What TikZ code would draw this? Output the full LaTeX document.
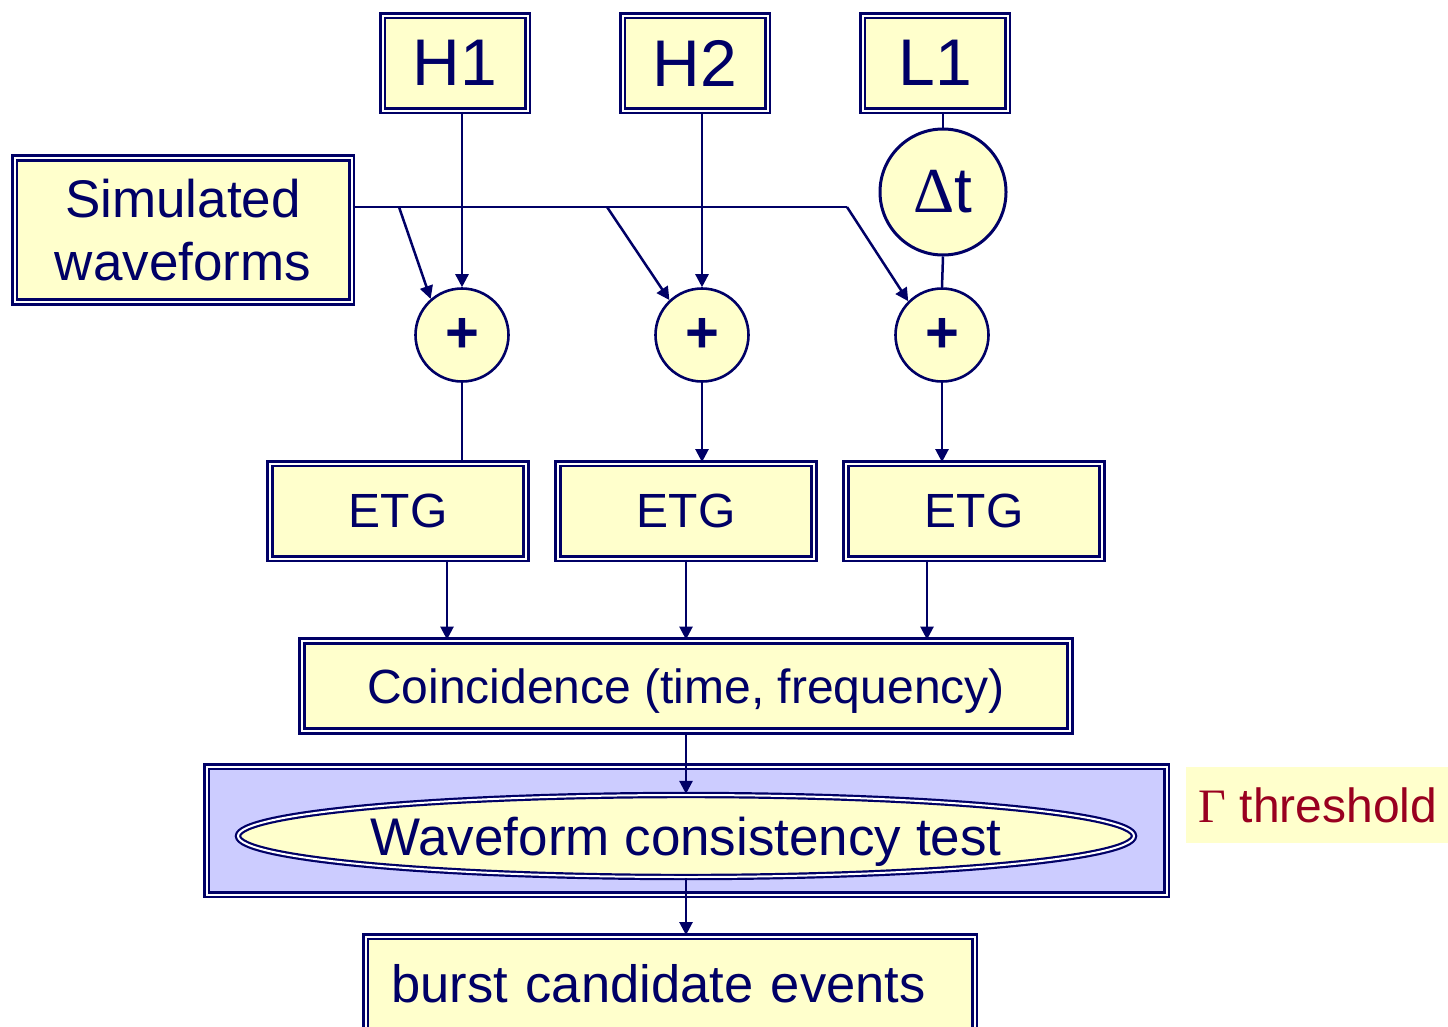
\documentclass[tikz,border=0pt]{standalone}
\usepackage{fontspec}
\setmainfont{Liberation Sans}
\newfontfamily\greekserif{Liberation Serif}
\usetikzlibrary{shapes.geometric,arrows.meta}
\definecolor{navy}{HTML}{000066}
\definecolor{cream}{HTML}{FFFFCC}
\definecolor{lav}{HTML}{CCCCFF}
\definecolor{wine}{HTML}{99001F}
\begin{document}
\begin{tikzpicture}[x=1pt,y=-1pt,
  dbox/.style={rectangle, draw=navy, double=white, double distance=2pt,
    line width=2.8pt, fill=cream, text=navy, inner sep=0pt},
  plus/.style={circle, draw=navy, line width=2.6pt, fill=cream, text=navy,
    minimum size=93pt, inner sep=0pt, font=\fontsize{58}{60}\selectfont\bfseries},
  conn/.style={draw=navy, line width=2.5pt},
  arr/.style={conn, -{Triangle[length=13pt,width=13pt]}},
  big/.style={font=\fontsize{66}{72}\selectfont},
  mid/.style={font=\fontsize{53}{63}\selectfont},
  small/.style={font=\fontsize{48}{56}\selectfont}]
\useasboundingbox (0,0) rectangle (1448,1026);

% detector inputs
\node[dbox, big, minimum width=145pt, minimum height=95pt] (h1) at (455,63) {H1};
\node[dbox, big, minimum width=145pt, minimum height=95pt] (h2) at (695,63) {H2};
\node[dbox, big, minimum width=145pt, minimum height=95pt] (l1) at (935,63) {L1};

% injection source
\node[dbox, mid, minimum width=337pt, minimum height=144pt, align=center] (sim) at (183,230) {Simulated\\waveforms};

% time shift and summing junctions
\node[circle, draw=navy, line width=3pt, fill=cream, text=navy, minimum size=126pt,
  inner sep=0pt, font=\fontsize{64}{70}\selectfont] (dt) at (943,192) {{\greekserif Δ}t};
\node[plus] (p1) at (462,335) {+};
\node[plus] (p2) at (702,335) {+};
\node[plus] (p3) at (942,335) {+};

% event trigger generators
\node[dbox, small, minimum width=256pt, minimum height=95pt] (e1) at (398,511) {ETG};
\node[dbox, small, minimum width=256pt, minimum height=95pt] (e2) at (686,511) {ETG};
\node[dbox, small, minimum width=256pt, minimum height=95pt] (e3) at (974,511) {ETG};

% coincidence stage
\node[dbox, small, text depth=0pt, minimum width=768pt, minimum height=90pt] (co) at (686,686) {Coincidence (time, frequency)};

% consistency test stage
\node[dbox, fill=lav, minimum width=960pt, minimum height=128pt] (tb) at (686.5,830.5) {};
\node[ellipse, draw=navy, double=white, double distance=2pt, line width=2.2pt,
  fill=cream, text=navy, inner sep=0pt, text depth=0pt, minimum width=896pt,
  minimum height=82pt, mid] (wc) at (686,836) {Waveform consistency test};

% output
\node[dbox, font=\fontsize{52.5}{60}\selectfont, text width=557pt, align=left,
  inner xsep=26pt, inner ysep=0pt, minimum height=95pt] (bu) at (670,984) {burst candidate events};

% threshold label
\node[rectangle, fill=cream, text=wine, minimum width=265pt, minimum height=76pt,
  inner sep=0pt, font=\fontsize{48}{52}\selectfont] (th) at (1318,805)
  {{\greekserif Γ} threshold\hspace{3pt}};

% detector to junction connectors
\draw[arr] (p1 |- h1.south) -- (p1.north);
\draw[arr] (p2 |- h2.south) -- (p2.north);
\draw[conn] (dt |- l1.south) -- (dt.north);
\draw[conn] (dt.south) -- (p3.north);

% simulated waveform bus
\coordinate (j1) at (399,207);
\coordinate (j2) at (607,207);
\coordinate (j3) at (847,207);
\draw[conn] (sim.east |- j1) -- (j3);
\draw[arr] (j1) -- (p1.131);
\draw[arr] (j2) -- (p2.133);
\draw[arr] (j3) -- (p3.135);

% junctions to ETGs
\draw[conn] (p1.south) -- (p1 |- e1.north);
\draw[arr] (p2.south) -- (p2 |- e2.north);
\draw[arr] (p3.south) -- (p3 |- e3.north);

% ETGs to coincidence
\draw[arr] ([xshift=49pt]e1.south) -- ([xshift=49pt]e1.south |- co.north);
\draw[arr] (e2.south) -- (e2.south |- co.north);
\draw[arr] ([xshift=-47pt]e3.south) -- ([xshift=-47pt]e3.south |- co.north);

% coincidence through test to output
\draw[arr] (co.south) -- (wc.north);
\draw[arr] (wc.south) -- (wc.south |- bu.north);
\end{tikzpicture}
\end{document}
